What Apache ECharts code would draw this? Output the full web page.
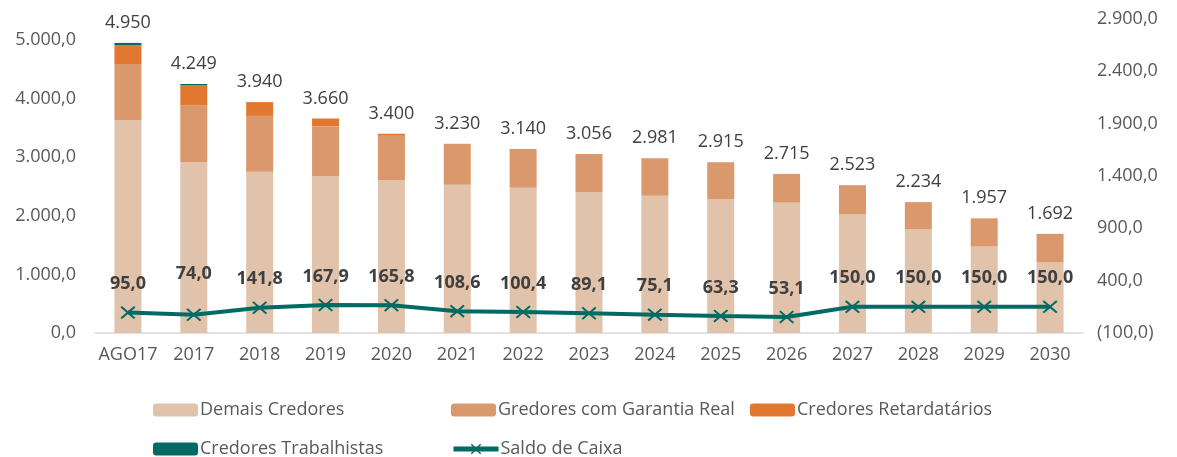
<!DOCTYPE html>
<html>
<head>
<meta charset="utf-8">
<script src="https://cdn.jsdelivr.net/npm/echarts@6/dist/echarts.min.js"></script>
<style>
  html, body { margin: 0; padding: 0; background: #fff; }
  #chart { width: 1177px; height: 457px; }
</style>
</head>
<body>
<div id="chart"></div>
<script>
(function() {
    // dados
    const categories = ['AGO17', '2017', '2018', '2019', '2020', '2021', '2022', '2023', '2024', '2025', '2026', '2027', '2028', '2029', '2030'];
    const demaisCredores = [3630, 2920, 2750, 2680, 2610, 2530, 2480, 2405, 2340, 2285, 2225, 2030, 1770, 1475, 1210];
    const garantiaReal = [960, 965, 955, 850, 755, 700, 660, 651, 641, 630, 490, 493, 464, 482, 482];
    const retardatarios = [320, 340, 235, 130, 35, 0, 0, 0, 0, 0, 0, 0, 0, 0, 0];
    const trabalhistas = [40, 24, 0, 0, 0, 0, 0, 0, 0, 0, 0, 0, 0, 0, 0];
    const totais = [4950, 4249, 3940, 3660, 3400, 3230, 3140, 3056, 2981, 2915, 2715, 2523, 2234, 1957, 1692];
    const saldoCaixa = [95.0, 74.0, 141.8, 167.9, 165.8, 108.6, 100.4, 89.1, 75.1, 63.3, 53.1, 150.0, 150.0, 150.0, 150.0];

    const FONT = 'Open Sans';
    const GRAY = '#595959';
    const DARK = '#404040';
    const TEAL = '#006B64';

    // formato pt-BR: 1.234,5 ; negativos entre parênteses
    function fmt(v, dec) {
        const parts = Math.abs(v).toFixed(dec).split('.');
        parts[0] = parts[0].replace(/\B(?=(\d{3})+(?!\d))/g, '.');
        const s = parts.join(',');
        return v < 0 ? '(' + s + ')' : s;
    }

    const crossSymbol = 'path://M0,1L1,0L5,4L9,0L10,1L6,5L10,9L9,10L5,6L1,10L0,9L4,5Z';

    const chart = echarts.init(document.getElementById('chart'));

    function barSeries(name, data, color) {
        return {
            name: name,
            type: 'bar',
            stack: 'total',
            barWidth: 27,
            data: data,
            itemStyle: { color: color },
            emphasis: { disabled: true }
        };
    }

    function legendAt(name, left, top) {
        return {
            data: [name],
            left: left,
            top: top,
            itemWidth: 45,
            itemHeight: 13,
            itemGap: 0,
            selectedMode: false,
            lineStyle: { width: 5 },
            textStyle: { fontFamily: FONT, fontSize: 18, color: GRAY, padding: [0, 0, 0, -3] }
        };
    }

    const option = {
        animation: false,
        backgroundColor: '#fff',
        grid: { left: 95, right: 94, top: 19, bottom: 124 },
        legend: [
            legendAt('Demais Credores', 148, 396),
            legendAt('Gredores com Garantia Real', 446, 396),
            legendAt('Credores Retardatários', 745, 396),
            legendAt('Credores Trabalhistas', 148, 435),
            legendAt('Saldo de Caixa', 446, 435)
        ],
        xAxis: {
            type: 'category',
            data: categories,
            axisLine: { lineStyle: { color: '#D9D9D9', width: 1.5 } },
            axisTick: { show: false },
            axisLabel: { interval: 0, color: GRAY, fontFamily: FONT, fontSize: 18, margin: 13 }
        },
        yAxis: [
            {
                type: 'value',
                min: 0,
                max: 5358,
                interval: 1000,
                splitLine: { show: false },
                axisLine: { show: false },
                axisTick: { show: false },
                axisLabel: {
                    color: GRAY, fontFamily: FONT, fontSize: 18, margin: 19,
                    showMaxLabel: false,
                    formatter: v => (v % 1000 === 0 ? fmt(v, 1) : '')
                }
            },
            {
                type: 'value',
                min: -100,
                max: 2900,
                interval: 500,
                splitLine: { show: false },
                axisLine: { show: false },
                axisTick: { show: false },
                axisLabel: {
                    color: GRAY, fontFamily: FONT, fontSize: 18, margin: 14,
                    formatter: v => fmt(v, 1)
                }
            }
        ],
        series: [
            barSeries('Demais Credores', demaisCredores, '#E1C2AA'),
            barSeries('Gredores com Garantia Real', garantiaReal, '#DA996C'),
            barSeries('Credores Retardatários', retardatarios, '#E27830'),
            barSeries('Credores Trabalhistas', trabalhistas, TEAL),
            {
                // rótulo do total no topo da pilha
                name: 'Total',
                type: 'bar',
                stack: 'total',
                barWidth: 27,
                data: totais.map(() => 0),
                itemStyle: { color: 'transparent' },
                label: {
                    show: true,
                    position: 'top',
                    distance: 11,
                    color: DARK,
                    fontFamily: FONT,
                    fontSize: 18,
                    formatter: p => fmt(totais[p.dataIndex], 0)
                },
                emphasis: { disabled: true },
                silent: true
            },
            {
                name: 'Saldo de Caixa',
                type: 'line',
                yAxisIndex: 1,
                data: saldoCaixa,
                symbol: crossSymbol,
                symbolSize: [15, 13],
                showAllSymbol: true,
                lineStyle: { color: TEAL, width: 4 },
                itemStyle: { color: TEAL },
                label: {
                    show: true,
                    position: 'top',
                    distance: 13,
                    color: DARK,
                    fontFamily: FONT,
                    fontWeight: 'bold',
                    fontSize: 18,
                    formatter: p => fmt(p.value, 1)
                },
                labelLayout: p => (p.dataIndex === 1 ? { dy: -12 } : {}),
                emphasis: { disabled: true },
                z: 5
            }
        ]
    };

    chart.setOption(option);
})();
</script>
</body>
</html>
